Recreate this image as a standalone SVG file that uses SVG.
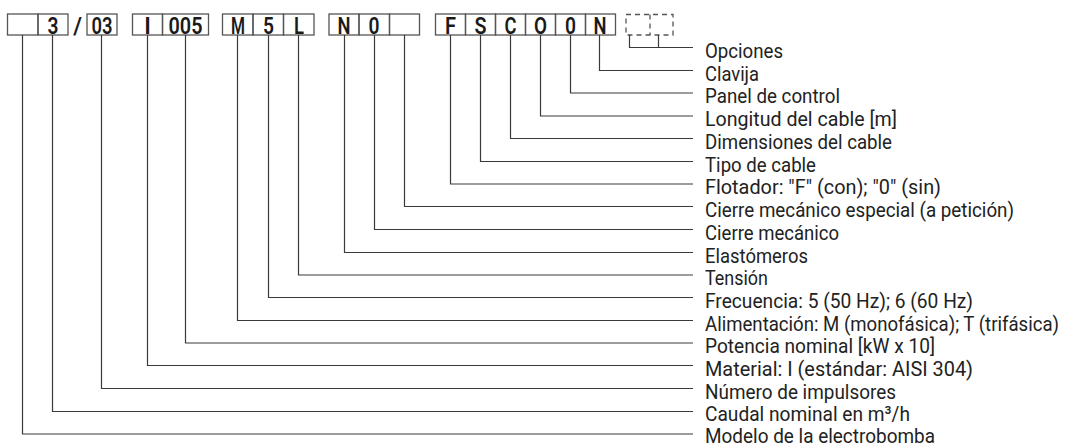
<svg xmlns="http://www.w3.org/2000/svg" width="1066" height="446" viewBox="0 0 1066 446">
<style>
.cell{fill:none;stroke:#555;stroke-width:1.3}
.dash{fill:none;stroke:#555;stroke-width:1.3;stroke-dasharray:5 4}
.ln{fill:none;stroke:#3a3a3a;stroke-width:1.2}
.bt{font-family:Roboto,"Liberation Sans",sans-serif;font-size:23px;font-weight:600;fill:#1a1a1a;text-anchor:middle}
.lb{font-family:Roboto,"Liberation Sans",sans-serif;font-size:21px;fill:#222}
</style>
<rect width="1066" height="446" fill="#fff"/>
<g id="code">
  <g id="g1">
    <rect class="cell" x="7.5" y="14" width="30.5" height="21"/>
    <rect class="cell" x="38" y="14" width="30" height="21"/>
    <text class="bt" x="53" y="33.5" textLength="11" lengthAdjust="spacingAndGlyphs">3</text>
  </g>
  <text class="bt" x="77.5" y="33.5" font-weight="400">/</text>
  <g id="g2">
    <rect class="cell" x="87" y="14" width="30" height="21"/>
    <text class="bt" x="102" y="33.5" textLength="21" lengthAdjust="spacingAndGlyphs">03</text>
  </g>
  <g id="g3">
    <rect class="cell" x="132.5" y="14" width="30" height="21"/>
    <rect class="cell" x="162.5" y="14" width="46" height="21"/>
    <text class="bt" x="147.5" y="33.5">I</text>
    <text class="bt" x="185.5" y="33.5" textLength="34" lengthAdjust="spacingAndGlyphs">005</text>
  </g>
  <g id="g4">
    <rect class="cell" x="222.5" y="14" width="30.5" height="21"/>
    <rect class="cell" x="253" y="14" width="30.5" height="21"/>
    <rect class="cell" x="283.5" y="14" width="30.5" height="21"/>
    <text class="bt" x="238" y="33.5" textLength="14" lengthAdjust="spacingAndGlyphs">M</text>
    <text class="bt" x="268.5" y="33.5" textLength="11" lengthAdjust="spacingAndGlyphs">5</text>
    <text class="bt" x="299" y="33.5" textLength="10" lengthAdjust="spacingAndGlyphs">L</text>
  </g>
  <g id="g5">
    <rect class="cell" x="329" y="14" width="30" height="21"/>
    <rect class="cell" x="359" y="14" width="30.5" height="21"/>
    <rect class="cell" x="389.5" y="14" width="30" height="21"/>
    <text class="bt" x="344" y="33.5" textLength="13" lengthAdjust="spacingAndGlyphs">N</text>
    <text class="bt" x="374" y="33.5" textLength="11" lengthAdjust="spacingAndGlyphs">0</text>
  </g>
  <g id="g6">
    <rect class="cell" x="435.5" y="14" width="30" height="21"/>
    <rect class="cell" x="465.5" y="14" width="30" height="21"/>
    <rect class="cell" x="495.5" y="14" width="30" height="21"/>
    <rect class="cell" x="525.5" y="14" width="30" height="21"/>
    <rect class="cell" x="555.5" y="14" width="30" height="21"/>
    <rect class="cell" x="585.5" y="14" width="30" height="21"/>
    <text class="bt" x="450.5" y="33.5" textLength="11" lengthAdjust="spacingAndGlyphs">F</text>
    <text class="bt" x="480.5" y="33.5" textLength="12" lengthAdjust="spacingAndGlyphs">S</text>
    <text class="bt" x="510.5" y="33.5" textLength="12" lengthAdjust="spacingAndGlyphs">C</text>
    <text class="bt" x="540.5" y="33.5" textLength="13" lengthAdjust="spacingAndGlyphs">O</text>
    <text class="bt" x="570.5" y="33.5" textLength="11" lengthAdjust="spacingAndGlyphs">0</text>
    <text class="bt" x="600" y="33.5" textLength="13" lengthAdjust="spacingAndGlyphs">N</text>
  </g>
  <g id="g7">
    <rect class="dash" x="626" y="14.5" width="47" height="20.5"/>
    <line class="dash" x1="650" y1="14.5" x2="650" y2="35"/>
  </g>
</g>
<g id="connectors">
  <path class="ln" d="M629.5,35V47.5H693M658.5,35V47.5"/>
  <path class="ln" d="M599.5,35V70.5H693"/>
  <path class="ln" d="M570.5,35V93H693"/>
  <path class="ln" d="M540.5,35V116H693"/>
  <path class="ln" d="M510.5,35V138.5H693"/>
  <path class="ln" d="M480.5,35V161.5H693"/>
  <path class="ln" d="M450.5,35V184H693"/>
  <path class="ln" d="M404.5,35V206.5H693"/>
  <path class="ln" d="M374.5,35V229.5H693"/>
  <path class="ln" d="M344.5,35V252.5H693"/>
  <path class="ln" d="M298.5,35V275H693"/>
  <path class="ln" d="M268.5,35V297.5H693"/>
  <path class="ln" d="M237.5,35V320.5H693"/>
  <path class="ln" d="M185.5,35V343H693"/>
  <path class="ln" d="M147.5,35V365.5H693"/>
  <path class="ln" d="M101.5,35V388.5H693"/>
  <path class="ln" d="M52.5,35V411.5H693"/>
  <path class="ln" d="M22.5,35V434H693"/>
</g>
<g id="labels">
  <text class="lb" x="705" y="57.5" textLength="78" lengthAdjust="spacingAndGlyphs">Opciones</text>
  <text class="lb" x="705" y="80.5" textLength="54" lengthAdjust="spacingAndGlyphs">Clavija</text>
  <text class="lb" x="705" y="103" textLength="135" lengthAdjust="spacingAndGlyphs">Panel de control</text>
  <text class="lb" x="705" y="126" textLength="192" lengthAdjust="spacingAndGlyphs">Longitud del cable [m]</text>
  <text class="lb" x="705" y="148.5" textLength="187" lengthAdjust="spacingAndGlyphs">Dimensiones del cable</text>
  <text class="lb" x="705" y="171.5" textLength="111" lengthAdjust="spacingAndGlyphs">Tipo de cable</text>
  <text class="lb" x="705" y="194" textLength="236" lengthAdjust="spacingAndGlyphs">Flotador: "F" (con); "0" (sin)</text>
  <text class="lb" x="705" y="216.5" textLength="309" lengthAdjust="spacingAndGlyphs">Cierre mecánico especial (a petición)</text>
  <text class="lb" x="705" y="239.5" textLength="134" lengthAdjust="spacingAndGlyphs">Cierre mecánico</text>
  <text class="lb" x="705" y="262.5" textLength="103" lengthAdjust="spacingAndGlyphs">Elastómeros</text>
  <text class="lb" x="705" y="285" textLength="63" lengthAdjust="spacingAndGlyphs">Tensión</text>
  <text class="lb" x="705" y="307.5" textLength="268" lengthAdjust="spacingAndGlyphs">Frecuencia: 5 (50 Hz); 6 (60 Hz)</text>
  <text class="lb" x="705" y="330.5" font-size="20" textLength="354" lengthAdjust="spacingAndGlyphs">Alimentación: M (monofásica); T (trifásica)</text>
  <text class="lb" x="705" y="353" textLength="230" lengthAdjust="spacingAndGlyphs">Potencia nominal [kW x 10]</text>
  <text class="lb" x="705" y="375.5" textLength="268" lengthAdjust="spacingAndGlyphs">Material: I (estándar: AISI 304)</text>
  <text class="lb" x="705" y="398.5" textLength="191" lengthAdjust="spacingAndGlyphs">Número de impulsores</text>
  <text class="lb" x="705" y="420.5" textLength="205" lengthAdjust="spacingAndGlyphs">Caudal nominal en m³/h</text>
  <text class="lb" x="705" y="442.5" textLength="230" lengthAdjust="spacingAndGlyphs">Modelo de la electrobomba</text>
</g>
</svg>
